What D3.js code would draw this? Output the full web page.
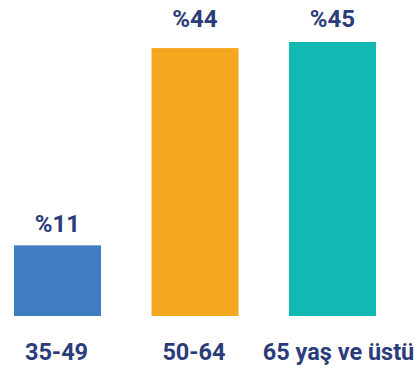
<!DOCTYPE html>
<html>
<head>
<meta charset="utf-8">
<script src="https://cdn.jsdelivr.net/npm/d3@7"></script>
<style>
  body { margin: 0; background: #fff; }
  text { font-family: Roboto, "Noto Sans", sans-serif; font-weight: bold; fill: #2c3c7b; }
</style>
</head>
<body>
<div id="chart"></div>
<script>
/* DATA */
const categories = ["35-49", "50-64", "65 yaş ve üstü"];
const values = [11.6, 44, 45];
const valueLabels = ["%11", "%44", "%45"];
const colors = ["#3f7cc1", "#f4a81f", "#12b9b3"];

/* CONSTANTS */
const width = 417, height = 371,
  baseY = 316, topY = 42;

const svg = d3.select("#chart").append("svg")
  .attr("width", width)
  .attr("height", height);

/* SCALES */
const xScale = d3.scaleBand()
  .domain(categories)
  .range([14, 376])
  .paddingInner(0.367)
  .paddingOuter(0);

const yScale = d3.scaleLinear()
  .domain([0, 45])
  .range([baseY, topY]);

const rows = categories.map((c, i) => ({cat: c, value: values[i], label: valueLabels[i], color: colors[i]}));

/* BARS */
svg.selectAll("rect.bar")
  .data(rows)
  .join("rect")
  .attr("class", "bar")
  .attr("x", d => xScale(d.cat))
  .attr("y", d => yScale(d.value))
  .attr("width", xScale.bandwidth())
  .attr("height", d => baseY - yScale(d.value))
  .attr("fill", d => d.color);

/* VALUE LABELS - tall bars keep their label pinned at the top */
svg.selectAll("text.bar-label")
  .data(rows)
  .join("text")
  .attr("class", "bar-label")
  .attr("x", d => xScale(d.cat) + xScale.bandwidth() / 2)
  .attr("y", d => yScale(d.value) > 100 ? yScale(d.value) - 13 : 27)
  .attr("text-anchor", "middle")
  .attr("font-size", "24px")
  .text(d => d.label);

/* CATEGORY LABELS */
svg.selectAll("text.cat-label")
  .data(rows)
  .join("text")
  .attr("class", "cat-label")
  .attr("x", (d, i) => xScale(d.cat) + xScale.bandwidth() / 2 + (i === 2 ? 6 : -1))
  .attr("y", 360)
  .attr("text-anchor", "middle")
  .attr("font-size", "23.5px")
  .text(d => d.cat);
</script>
</body>
</html>
